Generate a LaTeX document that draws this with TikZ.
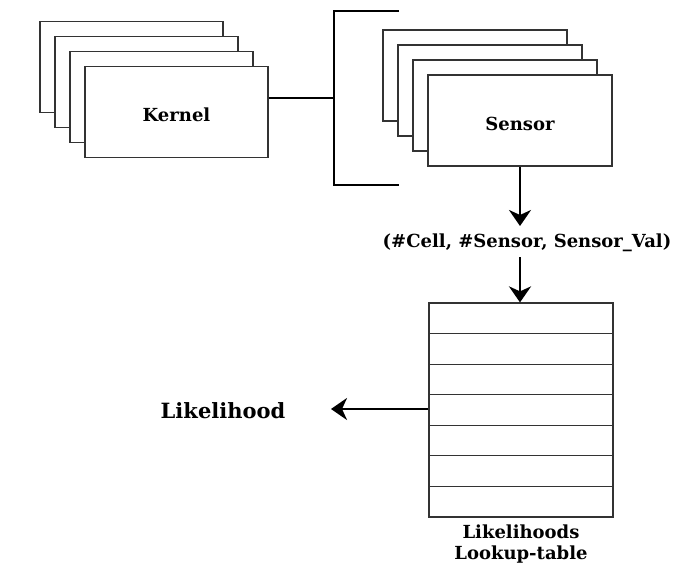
\documentclass[tikz,border=0pt]{standalone}
\usepackage{fontspec}
\setmainfont{DejaVu Serif}
\usetikzlibrary{arrows.meta,positioning}

\begin{document}
\begin{tikzpicture}[x=1pt,y=-1pt,
		card/.style={draw=black!80, line width=1.2pt, fill=white, minimum width=183pt, minimum height=91pt, inner sep=0pt, font=\bfseries\fontsize{18}{20}\selectfont},
		cell/.style={draw=black!80, line width=1.2pt, minimum width=184pt, minimum height=30.57pt, inner sep=0pt},
		wire/.style={line width=2.6pt},
		flow/.style={line width=2.6pt, -{Stealth[length=16pt,width=22pt,inset=5pt]}},
		lbl/.style={font=\bfseries\fontsize{18}{20}\selectfont}]
		\useasboundingbox (0,0) rectangle (685,565);
		
		\def\dd{15} % offset of the stacked cards
		
		% kernel stack
		\foreach \i in {0,...,3}
		\node[card] (k\i) at (131.5+\i*\dd, 67+\i*\dd) {};
		\node[lbl] at ([yshift=-3pt]k3) {Kernel};
		
		% sensor stack
		\foreach \i in {0,...,3}
		\node[card, minimum width=184pt] (s\i) at (475+\i*\dd, 75.5+\i*\dd) {};
		\node[lbl] at ([yshift=-3pt]s3) {Sensor};
		
		% bracket
		\coordinate (brtop) at (334,11);
		\coordinate (brbot) at (334,185);
		\coordinate (brmid) at (334,98);
		\draw[wire] (399,11) -- (brtop) -- (brbot) -- (399,185);
		\draw[wire] (k3.east |- brmid) -- (brmid);
		
		% tuple
		\node[lbl] (tuple) at (527,243) {(\#Cell, \#Sensor, Sensor\_Val)};
		\coordinate (tupin) at (520,226);
		\coordinate (tupout) at (520,257);
		
		% lookup table
		\foreach \i in {1,...,7}
		\node[cell] (r\i) at (521, 303+15.29+\i*30.57-30.57) {};
		\node[lbl, align=center, font=\bfseries\fontsize{18}{21}\selectfont, below=4pt of r7] (tname) {Likelihoods\\Lookup-table};
		
		\node[lbl, font=\bfseries\fontsize{21}{24}\selectfont] (lh) at (223,411) {Likelihood};
		\coordinate (lhtip) at (331,409);
		
		\draw[flow] (s3.south -| tupin) -- (tupin);
		\draw[flow] (tupout) -- (tupout |- r1.north);
		\draw[flow] (r4.west |- lhtip) -- (lhtip);
	\end{tikzpicture}
\end{document}
